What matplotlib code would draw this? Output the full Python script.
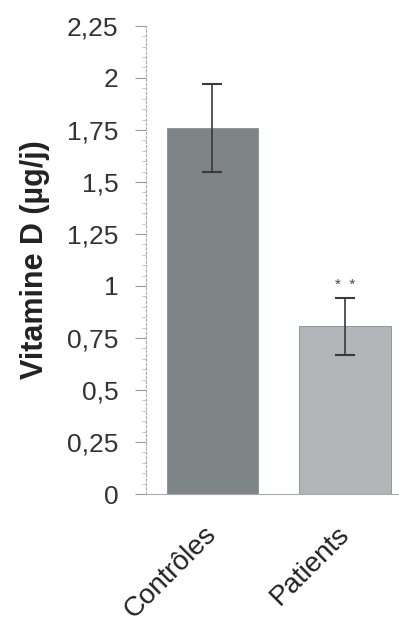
import numpy as np
import matplotlib
matplotlib.use('Agg')
import matplotlib.pyplot as plt
from matplotlib.ticker import MultipleLocator, FuncFormatter

# données
groupes = ['Contrôles', 'Patients']
moyennes = [1.76, 0.81]
err_haut = [0.21, 0.13]
err_bas = [0.21, 0.14]
couleurs = ['#7f8486', '#b2b5b7']
graduations = [0, 0.25, 0.5, 0.75, 1, 1.25, 1.5, 1.75, 2, 2.25]

plt.rcParams['font.family'] = ['Liberation Sans', 'DejaVu Sans']

fig = plt.figure(figsize=(3.99, 6.31), dpi=100)
ax = fig.add_axes([0.366, 0.217, 0.632, 0.742])

x = np.arange(len(groupes))
ax.bar(x, moyennes, width=0.69, color=couleurs, edgecolor='#8a8d8f', linewidth=0.6)
ax.errorbar(x, moyennes, yerr=[err_bas, err_haut], fmt='none', ecolor='#3a3a3a',
            elinewidth=1.2, capsize=7, capthick=1.5)

# astérisques au-dessus des patients
ax.text(x[1], moyennes[1] + err_haut[1] + 0.03, '*  *', ha='center', va='bottom',
        fontsize=11, color='#444444')

ax.set_xlim(-0.5, 1.4)
ax.set_ylim(0, 2.25)
ax.set_yticks(graduations)
ax.yaxis.set_major_formatter(FuncFormatter(lambda v, p: ('%g' % v).replace('.', ',')))
ax.yaxis.set_minor_locator(MultipleLocator(0.05))
ax.set_xticks(x)
ax.set_xticklabels(groupes, rotation=45, ha='right', va='center', rotation_mode='anchor',
                   fontsize=20)

for s in ['top', 'right']:
    ax.spines[s].set_visible(False)
ax.spines['left'].set_color('#aaaaaa')
ax.spines['left'].set_linestyle((0, (2, 2)))
ax.spines['left'].set_linewidth(0.8)
ax.spines['bottom'].set_color('#aaaaaa')
ax.spines['bottom'].set_linewidth(0.8)

ax.tick_params(axis='y', which='major', length=8, color='#999999', labelsize=19,
               labelcolor='#333333', pad=12)
ax.tick_params(axis='y', which='minor', length=3, color='#bbbbbb')
ax.tick_params(axis='x', length=0, pad=26, labelcolor='#222222')

ax.set_ylabel('Vitamine D (µg/j)', fontsize=22, fontweight='bold', color='#222222', labelpad=12)

fig.savefig('out.png', dpi=100)
